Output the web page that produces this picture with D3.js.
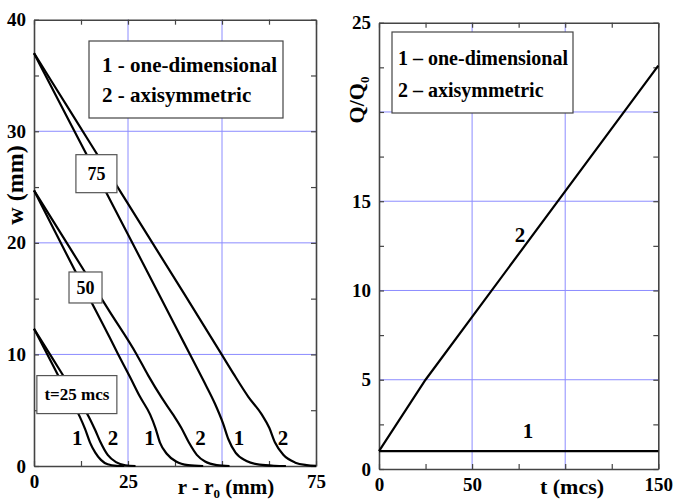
<!DOCTYPE html>
<html>
<head>
<meta charset="utf-8">
<script src="https://cdn.jsdelivr.net/npm/d3@7"></script>
<style>
  html, body { margin: 0; padding: 0; background: #fff; }
  svg { display: block; }
  text { font-family: "Liberation Serif", "Times New Roman", serif; font-weight: bold; fill: #000; }
</style>
</head>
<body>
<svg id="chart" width="673" height="500"></svg>
<script>
// ---------------- DATA ----------------
// Left panel: w (mm) vs r - r0 (mm); [x, y] pairs
const t25_oneDim = [[0,12.3],[5,9.05],[10,5.8],[12.2,4.4],[13.6,3.3],[14.9,2.1],[16.3,1.2],[17.8,0.55],[19.6,0.15],[22,0.02],[24,0]];
const t25_axisym = [[0,12.3],[5,9.6],[10,6.9],[14.9,4.2],[16.3,3.2],[17.6,2.2],[19.6,1.0],[21.8,0.35],[24.3,0.07],[27,0]];
const t50_oneDim = [[0,24.7],[10,18.1],[20,11.6],[22.4,10],[25.5,8.0],[28.2,6.2],[30.9,4.6],[32.3,3.4],[33.5,2.1],[35.3,1.1],[37.8,0.4],[41,0.08],[45,0]];
const t50_axisym = [[0,24.7],[10,19.3],[20,13.9],[27.3,10],[30.4,8.1],[34,6.1],[37,4.6],[39.2,3.4],[41.2,2.1],[43.3,1.0],[45.5,0.4],[48.6,0.08],[52,0]];
const t75_oneDim = [[0,37],[10,30.5],[20,24],[30,17.5],[38.4,12],[41.5,10],[45,7.7],[48.1,5.6],[50.3,3.8],[51.7,2.4],[53.6,1.2],[56.5,0.45],[60,0.12],[64,0.02],[67,0]];
const t75_axisym = [[0,37],[10,31.6],[20,26.2],[30,20.8],[40,15.4],[49.9,10],[53,8.3],[57,6.2],[60.6,4.6],[62.6,3.4],[64.1,2.1],[66.3,1.0],[69.5,0.3],[72.5,0.08],[75,0.02]];
const leftSeries = [t25_oneDim, t25_axisym, t50_oneDim, t50_axisym, t75_oneDim, t75_axisym];

// Curve number labels: [text, x, y] in data units
const leftCurveLabels = [["1",11.5,1.9],["2",21,1.9],["1",30.7,1.9],["2",44.3,1.9],["1",54.5,1.9],["2",66.2,1.9]];
// Boxed time labels: [text, x, y] (centre, data units)
const timeLabels = [["75",16.6,26.2],["50",13.7,16.0],["t=25 mcs",11.4,6.4]];

// Left axis ticks
const leftXTicks = [0,12.5,25,37.5,50,62.5,75];
const leftXLabels = [0,25,75];
const leftYTicks = [0,5,10,15,20,25,30,35,40];
const leftYLabels = [0,10,20,30,40];
const leftXGrid = [25,50];
const leftYGrid = [10,20,30];

// Right panel: Q/Q0 vs t (mcs)
const tValues1 = [0,150];
const q1 = [1,1];
const tValues2 = [0,25,150];
const q2 = [1,5,22.6];
const rightXTicks = [0,25,50,75,100,125,150];
const rightXLabels = [0,50,150];
const rightYTicks = [0,2.5,5,7.5,10,12.5,15,17.5,20,22.5,25];
const rightYLabels = [0,5,10,15,25];
const rightXGrid = [50,100];
const rightYGrid = [5,10,15,20];
const rightCurveLabels = [["1",80,1.75],["2",75.7,12.7]];

const legendLeft = ["1 - one-dimensional","2 - axisymmetric"];
const legendRight = ["1 \u2013 one-dimensional","2 \u2013 axisymmetric"];

// ---------------- DRAW ----------------
const svg = d3.select("#chart");
const gridColor = "#8c8cff";
const frameColor = "#444";

const xL = d3.scaleLinear().domain([0,75]).range([34,316]);
const yL = d3.scaleLinear().domain([0,40]).range([466,19.7]);
const xR = d3.scaleLinear().domain([0,150]).range([379,658.3]);
const yR = d3.scaleLinear().domain([0,25]).range([469,22.7]);

function panel(x, y, xTicks, xLabels, yTicks, yLabels, xGrid, yGrid) {
  const g = svg.append("g");
  const [x0,x1] = x.range(), [y0,y1] = y.range();
  g.selectAll(".gx").data(xGrid).join("line")
    .attr("x1", d => x(d)).attr("x2", d => x(d)).attr("y1", y0).attr("y2", y1)
    .attr("stroke", gridColor).attr("stroke-width", 1);
  g.selectAll(".gy").data(yGrid).join("line")
    .attr("y1", d => y(d)).attr("y2", d => y(d)).attr("x1", x0).attr("x2", x1)
    .attr("stroke", gridColor).attr("stroke-width", 1);
  const fmt = labels => d => labels.includes(d) ? String(d) : "";
  const axB = g.append("g").attr("transform", `translate(0,${y0})`)
    .call(d3.axisBottom(x).tickValues(xTicks).tickFormat(fmt(xLabels)).tickSizeInner(-5).tickSizeOuter(0).tickPadding(9));
  const axT = g.append("g").attr("transform", `translate(0,${y1})`)
    .call(d3.axisTop(x).tickValues(xTicks).tickFormat("").tickSizeInner(-5).tickSizeOuter(0));
  const axL = g.append("g").attr("transform", `translate(${x0},0)`)
    .call(d3.axisLeft(y).tickValues(yTicks).tickFormat(fmt(yLabels)).tickSizeInner(-5).tickSizeOuter(0).tickPadding(8));
  const axR = g.append("g").attr("transform", `translate(${x1},0)`)
    .call(d3.axisRight(y).tickValues(yTicks).tickFormat("").tickSizeInner(-5).tickSizeOuter(0));
  [axB,axT,axL,axR].forEach(a => {
    a.select(".domain").attr("stroke", frameColor).attr("stroke-width", 1.6);
    a.selectAll(".tick line").attr("stroke", frameColor).attr("stroke-width", 1.2);
    a.selectAll(".tick text").attr("font-family", "Liberation Serif, serif")
      .attr("font-weight", "bold").attr("font-size", 19).attr("fill", "#000");
  });
  return g;
}

// ---- Left panel ----
const gL = panel(xL, yL, leftXTicks, leftXLabels, leftYTicks, leftYLabels, leftXGrid, leftYGrid);
const lineL = d3.line().x(d => xL(d[0])).y(d => yL(d[1])).curve(d3.curveMonotoneX);
gL.selectAll(".curve").data(leftSeries).join("path")
  .attr("d", lineL).attr("fill", "none").attr("stroke", "#000").attr("stroke-width", 2.2)
  .attr("stroke-linejoin", "round");

gL.selectAll(".cl").data(leftCurveLabels).join("text")
  .attr("x", d => xL(d[1])).attr("y", d => yL(d[2]))
  .attr("text-anchor", "middle").attr("font-size", 21).text(d => d[0]);

// boxed time labels (box sizes are styling)
const boxSizes = [[41,38,18,"normal"],[33,31,18,"bold"],[80,38,17,"bold"]];
timeLabels.forEach(([t, xv, yv], i) => {
  const [bw, bh, fs, fw] = boxSizes[i];
  const cx = xL(xv), cy = yL(yv);
  gL.append("rect").attr("x", cx - bw/2).attr("y", cy - bh/2).attr("width", bw).attr("height", bh)
    .attr("fill", "#fff").attr("stroke", "#555").attr("stroke-width", 1.2);
  gL.append("text").attr("x", cx).attr("y", cy + fs*0.34)
    .attr("text-anchor", "middle").attr("font-size", fs).attr("font-weight", fw).text(t);
});

// legend left
gL.append("rect").attr("x", 89).attr("y", 41).attr("width", 194).attr("height", 77)
  .attr("fill", "#fff").attr("stroke", "#444").attr("stroke-width", 1.2);
gL.selectAll(".lg").data(legendLeft).join("text")
  .attr("x", 102).attr("y", (d,i) => 72 + i*30).attr("font-size", 21).text(d => d);

// axis titles left
const xtL = svg.append("text").attr("x", 226).attr("y", 494).attr("text-anchor", "middle").attr("font-size", 21);
xtL.append("tspan").text("r - r");
xtL.append("tspan").attr("font-size", 13).attr("dy", 4).text("0");
xtL.append("tspan").attr("dy", -4).text(" (mm)");
svg.append("text").attr("transform", "translate(23,185) rotate(-90)")
  .attr("text-anchor", "middle").attr("font-size", 24).text("w (mm)");

// ---- Right panel ----
const gR = panel(xR, yR, rightXTicks, rightXLabels, rightYTicks, rightYLabels, rightXGrid, rightYGrid);
const lineR = d3.line().x(d => xR(d[0])).y(d => yR(d[1]));
const s1 = tValues1.map((t,i) => [t, q1[i]]);
const s2 = tValues2.map((t,i) => [t, q2[i]]);
gR.selectAll(".curveR").data([s1, s2]).join("path")
  .attr("d", lineR).attr("fill", "none").attr("stroke", "#000").attr("stroke-width", 2.2);
gR.selectAll(".clR").data(rightCurveLabels).join("text")
  .attr("x", d => xR(d[1])).attr("y", d => yR(d[2]))
  .attr("text-anchor", "middle").attr("font-size", 21).text(d => d[0]);

// legend right
gR.append("rect").attr("x", 392).attr("y", 32).attr("width", 181).attr("height", 81)
  .attr("fill", "#fff").attr("stroke", "#444").attr("stroke-width", 1.2);
gR.selectAll(".lgR").data(legendRight).join("text")
  .attr("x", 398).attr("y", (d,i) => 65 + i*32).attr("font-size", 20).text(d => d);

// axis titles right
svg.append("text").attr("x", 572).attr("y", 494).attr("text-anchor", "middle").attr("font-size", 22).text("t (mcs)");
const ytR = svg.append("text").attr("transform", "translate(364,100) rotate(-90)")
  .attr("text-anchor", "middle").attr("font-size", 22);
ytR.append("tspan").text("Q/Q");
ytR.append("tspan").attr("font-size", 13).attr("dy", 5).text("0");
</script>
</body>
</html>
